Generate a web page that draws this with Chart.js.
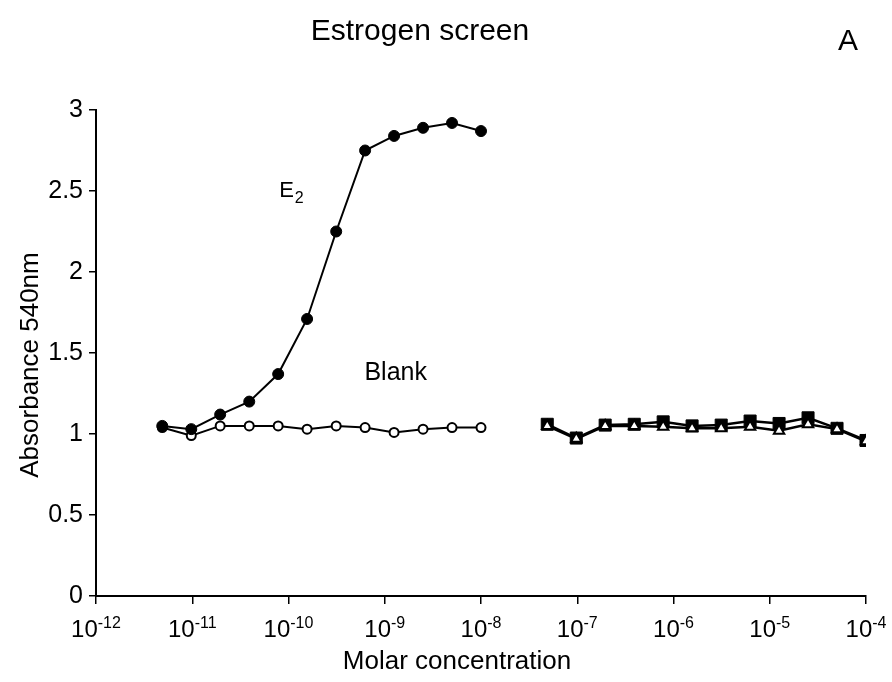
<!DOCTYPE html>
<html>
<head>
<meta charset="utf-8">
<title>Estrogen screen</title>
<script src="https://cdn.jsdelivr.net/npm/chart.js@4.4.0/dist/chart.umd.min.js"></script>
<style>
  html, body { margin: 0; padding: 0; background: #fff; }
  #wrap { width: 892px; height: 682px; position: relative; }
</style>
</head>
<body>
<div id="wrap"><canvas id="chart"></canvas></div>
<script>
// concentrations (M), twofold dilution series
const e2Conc = [4.88e-12, 9.77e-12, 1.95e-11, 3.91e-11, 7.81e-11, 1.56e-10,
                3.13e-10, 6.25e-10, 1.25e-9, 2.5e-9, 5e-9, 1e-8];
const testConc = [4.88e-8, 9.77e-8, 1.95e-7, 3.91e-7, 7.81e-7, 1.56e-6,
                  3.13e-6, 6.25e-6, 1.25e-5, 2.5e-5, 5e-5, 1e-4];

// absorbance 540nm
const e2Abs = [1.05, 1.03, 1.12, 1.20, 1.37, 1.71, 2.25, 2.75, 2.84, 2.89, 2.92, 2.87];
const blankAbs = [1.04, 0.99, 1.05, 1.05, 1.05, 1.03, 1.05, 1.04, 1.01, 1.03, 1.04, 1.04];
const squareAbs = [1.06, 0.975, 1.055, 1.06, 1.075, 1.05, 1.055, 1.08, 1.065, 1.10, 1.035, 0.96];
const triangleAbs = [1.05, 0.97, 1.05, 1.05, 1.045, 1.035, 1.035, 1.045, 1.02, 1.06, 1.03, 0.955];

// axis ticks
const xTickValues = [1e-12, 1e-11, 1e-10, 1e-9, 1e-8, 1e-7, 1e-6, 1e-5, 1e-4];
const xTickExponents = ['-12', '-11', '-10', '-9', '-8', '-7', '-6', '-5', '-4'];
const yTickLabels = ['0', '0.5', '1', '1.5', '2', '2.5', '3'];

const FONT = '"Liberation Sans", Arial, Helvetica, sans-serif';

function toPoints(xs, ys) {
    return xs.map((x, i) => ({ x: x, y: ys[i] }));
}

// texts: titles, powers of ten under the x axis, curve labels, panel letter
const textPlugin = {
    id: 'texts',
    afterDraw(chart) {
        const { ctx, scales: { x, y } } = chart;
        ctx.save();
        ctx.fillStyle = '#000';

        // x tick labels as 10 with a raised exponent
        ctx.textAlign = 'left';
        ctx.textBaseline = 'alphabetic';
        xTickValues.forEach((v, i) => {
            const px = x.getPixelForValue(v);
            ctx.font = '24px ' + FONT;
            const w1 = ctx.measureText('10').width;
            ctx.font = '16px ' + FONT;
            const w2 = ctx.measureText(xTickExponents[i]).width;
            const start = px - (w1 + w2) / 2;
            ctx.font = '24px ' + FONT;
            ctx.fillText('10', start, y.bottom + 41);
            ctx.font = '16px ' + FONT;
            ctx.fillText(xTickExponents[i], start + w1, y.bottom + 32);
        });

        ctx.textBaseline = 'middle';
        ctx.textAlign = 'center';

        // chart title and panel letter
        ctx.font = '30px ' + FONT;
        ctx.fillText('Estrogen screen', 420, 32);
        ctx.fillText('A', chart.width - 44, 42);

        // axis titles
        ctx.font = '26px ' + FONT;
        ctx.fillText('Molar concentration', 457, 662);
        ctx.save();
        ctx.translate(31, 365);
        ctx.rotate(-Math.PI / 2);
        ctx.fillText('Absorbance 540nm', 0, 0);
        ctx.restore();

        // E with subscript 2
        ctx.textAlign = 'left';
        ctx.font = '22px ' + FONT;
        const ex = x.getPixelForValue(8e-11);
        const ey = y.getPixelForValue(2.5);
        ctx.fillText('E', ex, ey);
        const ew = ctx.measureText('E').width;
        ctx.font = '16px ' + FONT;
        ctx.fillText('2', ex + ew + 1, ey + 8);

        // Blank
        ctx.textAlign = 'center';
        ctx.font = '25px ' + FONT;
        ctx.fillText('Blank', x.getPixelForValue(1.3e-9), y.getPixelForValue(1.375));
        ctx.restore();
    }
};

const axisBorder = { display: true, color: '#000', width: 2 };

new Chart(document.getElementById('chart').getContext('2d'), {
    type: 'scatter',
    data: {
        datasets: [
            {
                label: 'E2',
                data: toPoints(e2Conc, e2Abs),
                showLine: true,
                borderColor: '#000',
                borderWidth: 2,
                backgroundColor: '#000',
                pointStyle: 'circle',
                pointRadius: 5.5,
                pointBorderWidth: 1,
                order: 0
            },
            {
                label: 'Blank',
                data: toPoints(e2Conc, blankAbs),
                showLine: true,
                borderColor: '#000',
                borderWidth: 2,
                backgroundColor: '#fff',
                pointStyle: 'circle',
                pointRadius: 4.5,
                pointBorderWidth: 2,
                order: 1
            },
            {
                label: 'Compound (squares)',
                data: toPoints(testConc, squareAbs),
                showLine: true,
                borderColor: '#000',
                borderWidth: 2.5,
                backgroundColor: '#000',
                pointStyle: 'rect',
                pointRadius: 8.5,
                pointBorderWidth: 1,
                order: 3
            },
            {
                label: 'Compound (triangles)',
                data: toPoints(testConc, triangleAbs),
                showLine: true,
                borderColor: '#000',
                borderWidth: 2.5,
                backgroundColor: '#fff',
                pointStyle: 'triangle',
                pointRadius: 6,
                pointBorderWidth: 2,
                order: 2
            }
        ]
    },
    options: {
        responsive: true,
        maintainAspectRatio: false,
        animation: false,
        layout: { padding: { top: 110, right: 26, bottom: 0, left: 0 } },
        plugins: {
            legend: { display: false },
            tooltip: { enabled: false },
            title: { display: false }
        },
        scales: {
            x: {
                type: 'logarithmic',
                position: 'bottom',
                min: 1e-12,
                max: 1e-4,
                afterBuildTicks(scale) {
                    scale.ticks = xTickValues.map(v => ({ value: v, major: true }));
                },
                afterFit(scale) { scale.height = 86; },
                ticks: { display: false, autoSkip: false },
                grid: {
                    display: true,
                    drawOnChartArea: false,
                    drawTicks: true,
                    tickLength: 8,
                    color: '#000',
                    lineWidth: 1.5
                },
                border: axisBorder
            },
            y: {
                min: 0,
                max: 3,
                afterFit(scale) { scale.width = 96; },
                ticks: {
                    stepSize: 0.5,
                    color: '#000',
                    padding: 6,
                    font: { family: FONT, size: 25 },
                    callback: (value, index) => yTickLabels[index]
                },
                grid: {
                    display: true,
                    drawOnChartArea: false,
                    drawTicks: true,
                    tickLength: 7,
                    color: '#000',
                    lineWidth: 1.5
                },
                border: axisBorder
            }
        }
    },
    plugins: [textPlugin]
});
</script>
</body>
</html>
